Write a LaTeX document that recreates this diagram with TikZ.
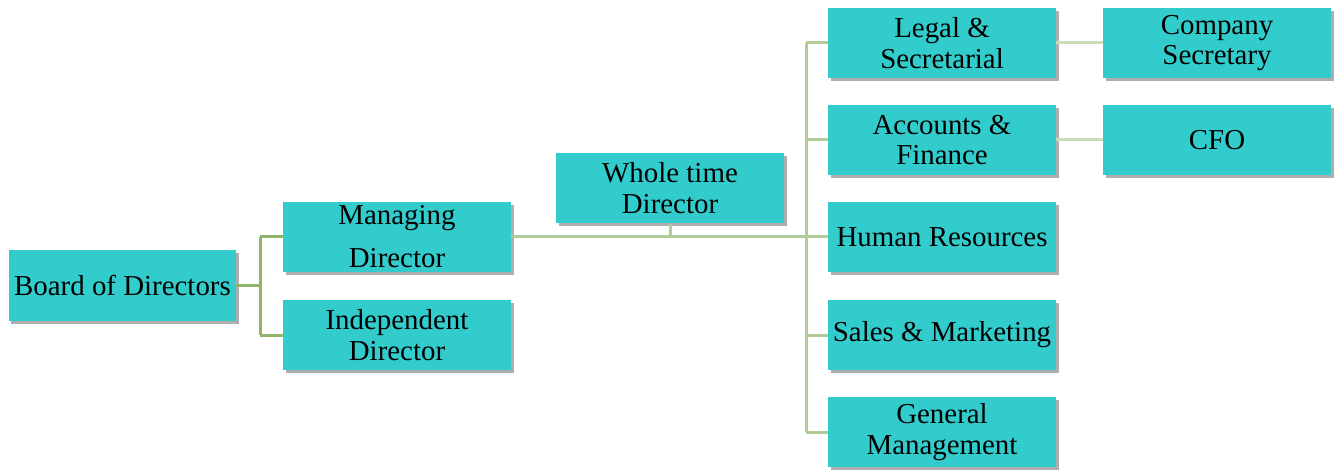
\documentclass[tikz,border=0pt]{standalone}
\usepackage{fontspec}
\setmainfont{Liberation Serif}
\usetikzlibrary{shadows,calc}
\definecolor{boxfill}{RGB}{51,204,204}
\definecolor{lineA}{RGB}{143,180,106}
\definecolor{lineB}{RGB}{176,204,152}
\definecolor{lineC}{RGB}{200,220,184}
\begin{document}
\begin{tikzpicture}[x=1bp,y=-1bp,
  orgbox/.style={draw=none, fill=boxfill, minimum width=228bp, minimum height=70bp,
    inner sep=0pt, align=center, font=\fontsize{29}{31}\selectfont,
    drop shadow={shadow xshift=2.5bp, shadow yshift=-3bp, opacity=0.45, fill=black!70}},
  conA/.style={draw=lineA, line width=3bp},
  conB/.style={draw=lineB, line width=3bp},
  conC/.style={draw=lineC, line width=3bp}]
\useasboundingbox (0,0) rectangle (1335,473);
% connectors first
\coordinate (bus) at (806,0);
\node[orgbox, minimum width=227bp] (board) at (122.5,285.5) {Board of Directors};
\node[orgbox] (md) at (397,237) {Managing\\[12bp]Director};
\node[orgbox] (id) at (397,335) {Independent\\Director};
\node[orgbox] (wt) at (670,188.5) {Whole time\\Director};
\node[orgbox] (legal) at (942,43) {Legal \&\\Secretarial};
\node[orgbox] (acc) at (942,140) {Accounts \&\\Finance};
\node[orgbox] (hr) at (942,237) {Human Resources};
\node[orgbox] (sales) at (942,335) {Sales \& Marketing};
\node[orgbox] (gm) at (942,432) {General\\Management};
\node[orgbox] (cs) at (1217,43) {Company\\Secretary};
\node[orgbox] (cfo) at (1217,140) {CFO};
\begin{scope}[on background layer/.try]
\end{scope}
\draw[conA] (board.east) -- ++(24,0) coordinate (bj);
\draw[conA] (bj |- md.west) -- (bj |- id.west);
\draw[conA] (bj |- md.west) -- (md.west);
\draw[conA] (bj |- id.west) -- (id.west);
\draw[conB] (md.east) -- (hr.west);
\draw[conB] (wt.south) -- (wt.south |- md.east);
\draw[conB] (legal.west -| bus) -- (gm.west -| bus);
\draw[conB] (legal.west -| bus) -- (legal.west);
\draw[conB] (acc.west -| bus) -- (acc.west);
\draw[conB] (sales.west -| bus) -- (sales.west);
\draw[conB] (gm.west -| bus) -- (gm.west);
\draw[conC] (legal.east) -- (cs.west);
\draw[conC] (acc.east) -- (cfo.west);
\end{tikzpicture}
\end{document}
